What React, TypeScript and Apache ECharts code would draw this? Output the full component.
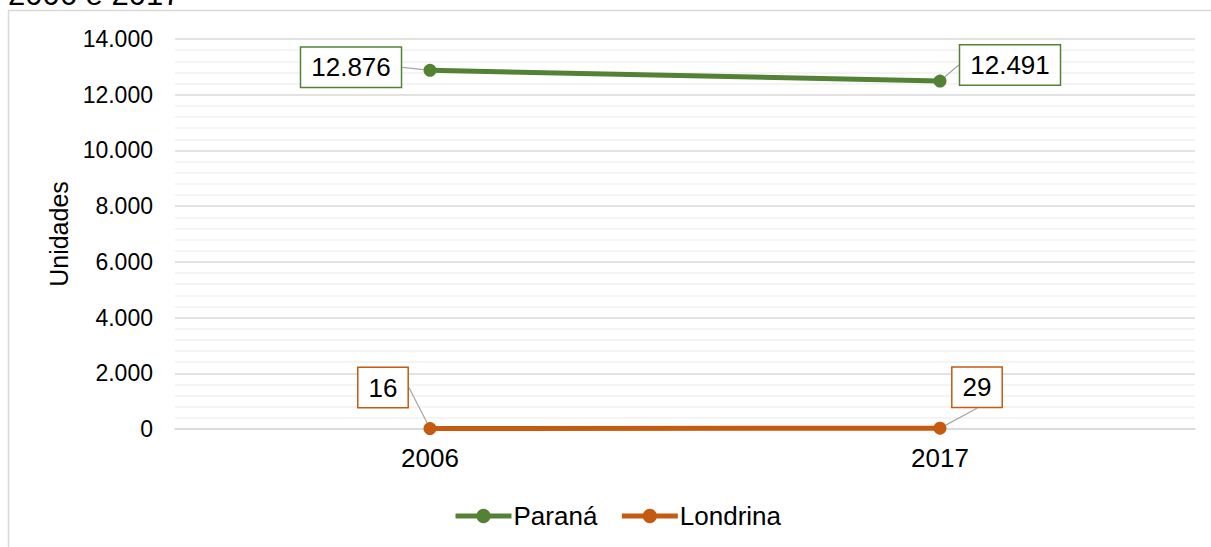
import React, { useEffect, useRef } from "react";
import * as echarts from "echarts";

const categories = ["2006", "2017"];
const paranaValues = [12876, 12491];
const londrinaValues = [16, 29];
const seriesNames = ["Paraná", "Londrina"];
const yTicks = { min: 0, max: 14000, interval: 2000 };
const titleText = "2006 e 2017";

const FONT = "'Liberation Sans', Arial, sans-serif";
const GREEN = "#548235";
const ORANGE = "#C55A11";

// label offsets (styling only)
const labelOffsets = [
  [{ dx: -79, dy: -3 }, { dx: 70, dy: -16 }],
  [{ dx: -47, dy: -41 }, { dx: 37, dy: -41 }],
];

function fmt(v: number) {
  return v.toLocaleString("pt-BR");
}

export default function App() {
  const ref = useRef<HTMLDivElement>(null);
  useEffect(() => {
    if (!ref.current) return;
    const chart = echarts.init(ref.current, undefined, { renderer: "svg" });
    const mkSeries = (name: string, data: number[], color: string, si: number) => ({
      name,
      type: "line",
      data,
      symbol: "circle",
      symbolSize: 13,
      color,
      lineStyle: { color, width: 5 },
      itemStyle: { color },
      label: {
        show: true,
        position: "inside",
        formatter: (p: any) => fmt(p.value),
        fontFamily: FONT,
        fontSize: 26,
        lineHeight: 26,
        color: "#000",
        backgroundColor: "#fff",
        borderColor: color,
        borderWidth: 1.5,
        padding: [7, 10, 6, 10],
      },
      labelLine: { show: true, lineStyle: { color: "#A6A6A6", width: 1.2 } },
      labelLayout: (p: any) => labelOffsets[si][p.dataIndex],
    });
    chart.setOption({
      animation: false,
      backgroundColor: "#fff",
      textStyle: { fontFamily: FONT },
      grid: { left: 175, right: 16, top: 39, bottom: 118, containLabel: false },
      graphic: [
        {
          type: "rect",
          shape: { x: 8.5, y: 10.5, width: 1300, height: 600 },
          style: { fill: "none", stroke: "#D9D9D9", lineWidth: 1.5 },
          z: -1,
        },
        {
          type: "text",
          left: 8,
          top: -21,
          style: { text: titleText, font: `31px ${FONT}`, fill: "#000" },
        },
      ],
      legend: {
        left: 453,
        top: 503,
        padding: 0,
        itemWidth: 56,
        itemHeight: 18,
        itemGap: 22,
        lineStyle: { width: 5 },
        textStyle: { fontFamily: FONT, fontSize: 26, color: "#000", padding: [0, 0, 0, -3] },
        data: seriesNames,
      },
      xAxis: {
        type: "category",
        data: categories,
        boundaryGap: true,
        axisLine: { lineStyle: { color: "#D9D9D9", width: 1.5 } },
        axisTick: { show: false },
        axisLabel: { fontFamily: FONT, fontSize: 26, color: "#000", margin: 16 },
      },
      yAxis: {
        type: "value",
        min: yTicks.min,
        max: yTicks.max,
        interval: yTicks.interval,
        name: "Unidades",
        nameLocation: "middle",
        nameGap: 103,
        nameTextStyle: { fontFamily: FONT, fontSize: 25, color: "#000" },
        axisLine: { show: false },
        axisTick: { show: false },
        axisLabel: {
          fontFamily: FONT,
          fontSize: 23,
          color: "#000",
          margin: 22,
          formatter: (v: number) => fmt(v),
        },
        splitLine: { lineStyle: { color: "#D9D9D9", width: 1.5 } },
        minorTick: { show: false, splitNumber: 5 },
        minorSplitLine: { show: true, lineStyle: { color: "#F0F0F0", width: 1.5 } },
      },
      series: [
        mkSeries(seriesNames[0], paranaValues, GREEN, 0),
        mkSeries(seriesNames[1], londrinaValues, ORANGE, 1),
      ],
    });
    return () => chart.dispose();
  }, []);
  return (
    <div
      ref={ref}
      style={{ position: "absolute", left: 0, top: 0, width: 1211, height: 547 }}
    />
  );
}
